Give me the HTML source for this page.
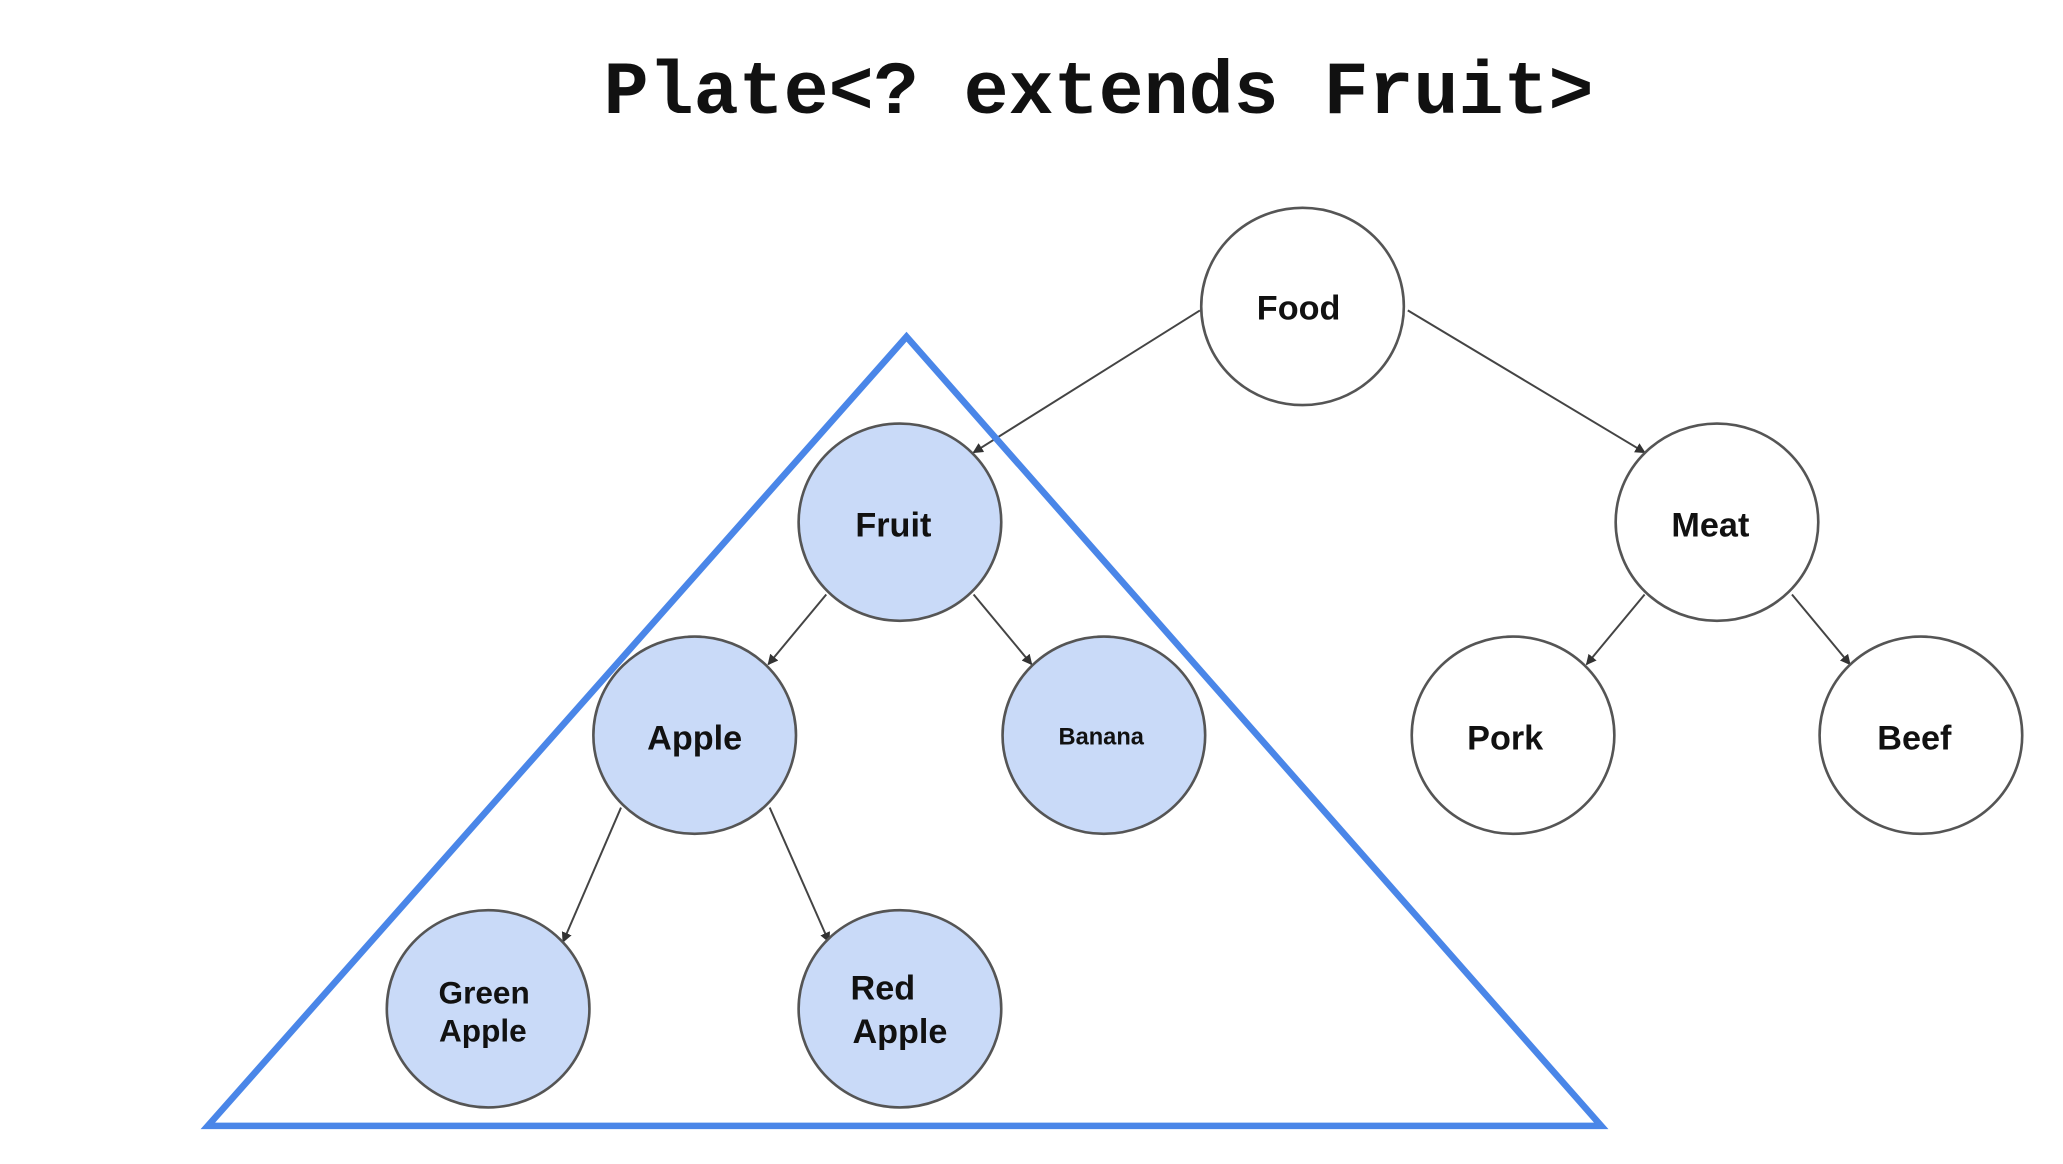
<!DOCTYPE html>
<html><head><meta charset="utf-8"><style>
html,body{margin:0;padding:0;background:#fff;}
svg{display:block;}
</style></head><body>
<svg width="2063" height="1164" viewBox="0 0 1568 885" preserveAspectRatio="none" xmlns="http://www.w3.org/2000/svg">
<defs>
<marker id="a" markerWidth="8" markerHeight="8" refX="7" refY="4" orient="auto" markerUnits="userSpaceOnUse">
<path d="M0,0 L8,4 L0,8 z" fill="#333"/>
</marker>
</defs>
<text x="835" y="86" text-anchor="middle" font-family="Liberation Mono, monospace" font-weight="bold" font-size="57" fill="#111">Plate&lt;? extends Fruit&gt;</text>
<g stroke="#444" stroke-width="1.5" marker-end="url(#a)">
<line x1="912" y1="236" x2="740" y2="344"/>
<line x1="1070" y1="236" x2="1250" y2="344"/>
<line x1="628" y1="452" x2="584" y2="505"/>
<line x1="740" y1="452" x2="784" y2="505"/>
<line x1="472" y1="614" x2="428" y2="716"/>
<line x1="585" y1="614" x2="630" y2="716"/>
<line x1="1250" y1="452" x2="1206" y2="505"/>
<line x1="1362" y1="452" x2="1406" y2="505"/>
</g>
<g stroke="#555" stroke-width="2">
<ellipse cx="990" cy="233" rx="77" ry="75" fill="#fff"/>
<ellipse cx="1305" cy="397" rx="77" ry="75" fill="#fff"/>
<ellipse cx="1150" cy="559" rx="77" ry="75" fill="#fff"/>
<ellipse cx="1460" cy="559" rx="77" ry="75" fill="#fff"/>
<ellipse cx="684" cy="397" rx="77" ry="75" fill="#c9daf8"/>
<ellipse cx="528" cy="559" rx="77" ry="75" fill="#c9daf8"/>
<ellipse cx="839" cy="559" rx="77" ry="75" fill="#c9daf8"/>
<ellipse cx="371" cy="767" rx="77" ry="75" fill="#c9daf8"/>
<ellipse cx="684" cy="767" rx="77" ry="75" fill="#c9daf8"/>
</g>
<polygon points="689,256 158,856 1217,856" fill="none" stroke="#4a86e8" stroke-width="5" stroke-linejoin="miter"/>
<g font-family="Liberation Sans, sans-serif" font-weight="bold" font-size="26" fill="#111" text-anchor="middle">
<text x="987" y="243">Food</text>
<text x="1300" y="408">Meat</text>
<text x="1144" y="570">Pork</text>
<text x="1455" y="570">Beef</text>
<text x="679" y="408">Fruit</text>
<text x="528" y="570">Apple</text>
<text x="837" y="566" font-size="18">Banana</text>
<text x="368" y="763" font-size="24">Green</text>
<text x="367" y="792" font-size="24">Apple</text>
<text x="671" y="760">Red</text>
<text x="684" y="793">Apple</text>
</g>
</svg>
</body></html>
